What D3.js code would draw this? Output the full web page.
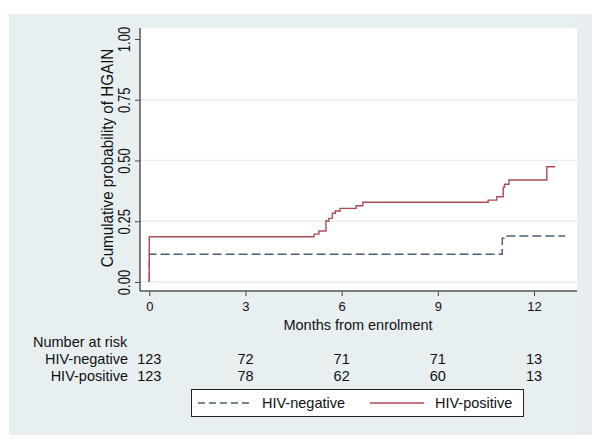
<!DOCTYPE html>
<html><head><meta charset="utf-8">
<script src="https://cdn.jsdelivr.net/npm/d3@7"></script>
<style>body{margin:0;background:#fff}svg{display:block}text{font-family:"Liberation Sans",Arial,Helvetica,sans-serif;fill:#111}</style>
</head><body>
<script>
// ---- data ----
const xTicks = [0, 3, 6, 9, 12];
const yTicks = [0, 0.25, 0.5, 0.75, 1];
const yTickLabels = ["0.00", "0.25", "0.50", "0.75", "1.00"];
const gridVals = [0, 0.25, 0.5, 0.75];
const posTimes = [0, 0, 5.14, 5.29, 5.51, 5.60, 5.71, 5.80, 5.95, 6.45, 6.66, 10.57, 10.84, 11.04, 11.08, 11.22, 12.40, 12.66];
const posValues = [0, 0.186, 0.197, 0.21, 0.251, 0.262, 0.283, 0.292, 0.303, 0.314, 0.328, 0.337, 0.351, 0.39, 0.402, 0.42, 0.474, 0.474];
const negTimes = [0, 0, 11.01, 11.13, 12.97];
const negValues = [0, 0.114, 0.18, 0.189, 0.189];
const riskGroups = ["HIV-negative", "HIV-positive"];
const riskNeg = [123, 72, 71, 71, 13];
const riskPos = [123, 78, 62, 60, 13];
const xTitle = "Months from enrolment";
const yTitle = "Cumulative probability of HGAIN";

const W = 600, H = 447;
const svg = d3.select("body").append("svg").attr("width", W).attr("height", H);
svg.append("rect").attr("x", 9).attr("y", 14).attr("width", 583).attr("height", 421).attr("fill", "#e8eff1");
svg.append("rect").attr("x", 577).attr("y", 14).attr("width", 15).attr("height", 421).attr("fill", "#e9edf0");
const plotL = 140, plotR = 577, plotT = 28, plotB = 291;
svg.append("rect").attr("x", plotL).attr("y", plotT).attr("width", plotR - plotL).attr("height", plotB - plotT).attr("fill", "#fff");

const x = d3.scaleLinear().domain([0, 12]).range([149.3, 534]);
const y = d3.scaleLinear().domain([0, 1]).range([282, 39]);

// grid
svg.append("g").selectAll("line").data(gridVals).join("line")
  .attr("x1", plotL).attr("x2", plotR).attr("y1", d => y(d)).attr("y2", d => y(d))
  .attr("stroke", "#e9edee").attr("stroke-width", 1.3);

// axes
const yAxis = d3.axisLeft(y).tickValues(yTicks).tickSize(5).tickFormat((d, i) => yTickLabels[i]);
const gy = svg.append("g").attr("transform", `translate(${plotL},0)`).call(yAxis);
gy.select(".domain").remove();
gy.selectAll(".tick line").attr("stroke", "#444");
gy.selectAll(".tick text").attr("x", 0).attr("dy", 0)
  .attr("transform", "translate(-10,0) rotate(-90) scale(1,1.2)").attr("text-anchor", "middle")
  .style("font-size", "13px").attr("fill", "#111");
svg.append("line").attr("x1", plotL).attr("x2", plotL).attr("y1", plotT).attr("y2", plotB).attr("stroke", "#555").attr("stroke-width", 1.5);

const xAxis = d3.axisBottom(x).tickValues(xTicks).tickSize(5).tickFormat(d3.format("d"));
const gx = svg.append("g").attr("transform", `translate(0,${plotB})`).call(xAxis);
gx.select(".domain").remove();
gx.selectAll(".tick line").attr("stroke", "#444");
gx.selectAll(".tick text").attr("y", 20).attr("dy", 0).style("font-size", "13px").attr("fill", "#111");
svg.append("line").attr("x1", plotL).attr("x2", plotR).attr("y1", plotB).attr("y2", plotB).attr("stroke", "#555").attr("stroke-width", 1.5);

// titles
svg.append("text").attr("transform", `translate(113,158) rotate(-90) scale(1,1.1)`)
  .attr("text-anchor", "middle").style("font-size", "15.2px").text(yTitle);
svg.append("text").attr("x", 358).attr("y", 330).attr("text-anchor", "middle").style("font-size", "14.5px").text(xTitle);

// curves
const line = d3.line().x(d => x(d[0])).y(d => y(d[1])).curve(d3.curveStepAfter);
svg.append("path").datum(negTimes.map((t, i) => [t, negValues[i]]))
  .attr("d", line).attr("fill", "none").attr("stroke", "#475f7c").attr("stroke-width", 1.4).attr("stroke-dasharray", "9,4");
svg.append("path").datum(posTimes.map((t, i) => [t, posValues[i]]))
  .attr("d", line).attr("fill", "none").attr("stroke", "#ad4a54").attr("stroke-width", 1.4);

// risk table
svg.append("text").attr("x", 33).attr("y", 347).style("font-size", "14.5px").text("Number at risk");
[riskNeg, riskPos].forEach((arr, r) => {
  const yy = 364 + r * 17;
  svg.append("text").attr("x", 128).attr("y", yy).attr("text-anchor", "end").style("font-size", "14.5px").text(riskGroups[r]);
  svg.append("g").selectAll("text").data(arr).join("text")
    .attr("x", (d, i) => x(xTicks[i])).attr("y", yy).attr("text-anchor", "middle").style("font-size", "14.5px").text(d => d);
});

// legend
const lg = svg.append("g");
lg.append("rect").attr("x", 191.5).attr("y", 389.5).attr("width", 332).attr("height", 27).attr("fill", "#fff").attr("stroke", "#222").attr("stroke-width", 1);
lg.append("line").attr("x1", 198).attr("x2", 253).attr("y1", 403).attr("y2", 403).attr("stroke", "#475f7c").attr("stroke-width", 1.4).attr("stroke-dasharray", "7,4");
lg.append("text").attr("x", 262).attr("y", 408).style("font-size", "14.5px").text(riskGroups[0]);
lg.append("line").attr("x1", 370).attr("x2", 424).attr("y1", 403).attr("y2", 403).attr("stroke", "#ad4a54").attr("stroke-width", 1.4);
lg.append("text").attr("x", 435).attr("y", 408).style("font-size", "14.5px").text(riskGroups[1]);
</script>
</body></html>
